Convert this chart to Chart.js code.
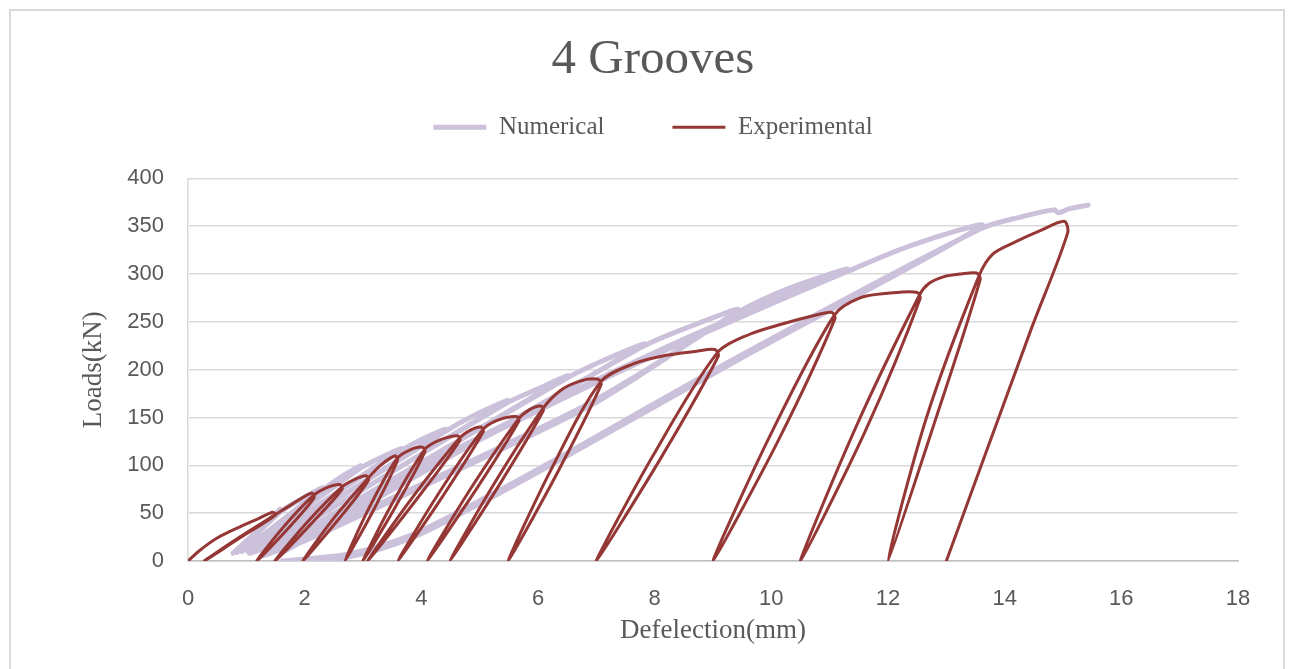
<!DOCTYPE html>
<html>
<head>
<meta charset="utf-8">
<title>4 Grooves</title>
<script src="https://cdn.jsdelivr.net/npm/chart.js@4.4.1/dist/chart.umd.min.js"></script>
<style>
  html, body { margin: 0; padding: 0; background: #fff; }
  #wrap { position: relative; width: 1294px; height: 669px; }
</style>
</head>
<body>
<div id="wrap"><canvas id="myChart" width="1294" height="669"></canvas></div>
<script>
// tick labels
const xTicks = [0, 2, 4, 6, 8, 10, 12, 14, 16, 18];
const yTicks = [0, 50, 100, 150, 200, 250, 300, 350, 400];

// Experimental: loading / unloading cycles (deflection mm, load kN)
const expX = [
  0, 0.2, 0.5, 0.9, 1.2,
  1.45, 1.5, 0.9, 0.28, 0.86, 1.5, 1.8,
  2.12, 2.16, 1.70, 1.18, 1.63, 2.14, 2.35,
  2.6, 2.64, 2.09, 1.49, 2.02, 2.63, 2.85,
  3.05, 3.09, 2.56, 1.97, 2.49, 3.08, 3.3,
  3.55, 3.59, 3.17, 2.69, 3.10, 3.58, 3.8,
  4.02, 4.06, 3.56, 3.0, 3.49, 4.05, 4.3,
  4.62, 4.66, 3.90, 3.08, 3.83, 4.65, 4.85,
  5.02, 5.06, 4.36, 3.6, 4.29, 5.05, 5.3,
  5.63, 5.67, 4.92, 4.1, 4.85, 5.66, 5.85,
  6.05, 6.09, 5.32, 4.49, 5.25, 6.08, 6.38, 6.72,
  7.03, 7.08, 6.33, 5.49, 6.22, 7.07, 7.63, 8.2, 8.7,
  9.03, 9.09, 8.10, 7.0, 7.97, 9.08, 9.63, 10.2, 10.7,
  11.03, 11.09, 10.12, 9.0, 9.97, 11.08, 11.52, 12.03,
  12.49, 12.55, 11.62, 10.5, 11.45, 12.54, 12.7, 12.95, 13.25,
  13.52, 13.58, 12.81, 12.0, 12.66, 13.56, 13.8, 14.2, 14.6,
  15.02, 15.08, 14.44, 13.0
];
const expY = [
  0, 11, 24, 36, 44,
  51, 48, 24.5, 0, 24, 48.5, 60,
  71, 66, 33, 0, 35, 68, 76,
  80, 75, 37.5, 0, 39, 77, 85,
  89, 84, 42, 0, 44, 86, 100,
  110, 105, 52, 0, 55, 107, 116,
  119, 114, 57, 0, 59, 116, 126,
  131, 126, 63, 0, 65, 128, 137,
  140, 135, 67, 0, 70, 137, 147,
  151, 146, 73, 0, 76, 148, 158,
  162, 157, 78, 0, 81, 159, 178, 188,
  190, 184, 92, 0, 95, 187, 206, 215, 219,
  221, 214, 107, 0, 110, 218, 237, 248, 256,
  260, 253, 126, 0, 130, 257, 275, 280,
  281, 274, 137, 0, 140, 278, 290, 297, 300,
  301, 294, 147, 0, 150, 298, 321, 334, 345,
  355, 343, 240, 0
];

// Numerical: loading / unloading cycles
const numX = [
  0.77, 1.2, 1.58,
  0.84,
  1.6, 1.95, 2.3,
  0.92,
  2.28, 2.6, 2.95,
  1.0,
  2.93, 3.3, 3.65,
  1.08,
  3.62, 4.0, 4.4,
  1.18,
  4.37, 4.9, 5.47,
  1.3,
  5.43, 6.0, 6.5,
  1.45,
  6.46, 7.1, 7.8,
  1.65,
  7.76, 8.6, 9.42,
  7.06, 5.35, 3.5, 2.0, 1.25,
  2.0, 3.5, 5.35, 7.06, 9.4, 10.3, 11.3,
  9.63, 8.0, 6.0, 4.0, 2.5, 1.05,
  2.5, 4.0, 6.0, 8.0, 9.63, 11.28, 12.4, 13.6,
  9.63, 6.15, 5.0, 3.86, 2.73, 1.6,
  2.73, 3.86, 5.0, 6.15, 9.63, 13.58,
  14.3, 14.85, 14.92, 15.1, 15.43
];
const numY = [
  8, 32, 54,
  9,
  52, 65, 76,
  10,
  73, 87, 99,
  11,
  96, 108, 117,
  12,
  114, 127, 137,
  12,
  134, 152, 167,
  12,
  164, 180, 193,
  12,
  190, 209, 226,
  10,
  223, 245, 262,
  171, 119, 66, 24, 5,
  21, 63, 116, 168, 259, 285, 305,
  262, 218, 160, 98, 45, 8,
  42, 95, 157, 215, 259, 302, 330, 350,
  217, 98, 60, 25, 4, 0,
  7, 28, 63, 101, 220, 347,
  360, 367, 364, 368, 372
];

const textColor = '#595959';
const serif = 'Liberation Serif';

const numPoints = numX.map((x, i) => ({ x: x, y: numY[i] }));
const expPoints = expX.map((x, i) => ({ x: x, y: expY[i] }));

// light grey frame round the whole chart, like the office chart border
const framePlugin = {
  id: 'frame',
  beforeDraw(chart) {
    const c = chart.ctx;
    c.save();
    c.fillStyle = '#ffffff';
    c.fillRect(0, 0, chart.width, chart.height);
    c.strokeStyle = '#d9d9d9';
    c.lineWidth = 2;
    c.strokeRect(10, 10, 1274, 700);
    c.restore();
  }
};

new Chart(document.getElementById('myChart'), {
  type: 'scatter',
  data: {
    datasets: [
      {
        label: 'Numerical',
        data: numPoints,
        showLine: true,
        borderColor: '#ccc1da',
        backgroundColor: '#ccc1da',
        borderWidth: 5,
        borderCapStyle: 'round',
        borderJoinStyle: 'round',
        pointRadius: 0,
        tension: 0.3,
        order: 1
      },
      {
        label: 'Experimental',
        data: expPoints,
        showLine: true,
        borderColor: '#953735',
        backgroundColor: '#953735',
        borderWidth: 3,
        borderCapStyle: 'round',
        borderJoinStyle: 'round',
        pointRadius: 0,
        tension: 0.3,
        order: 0
      }
    ]
  },
  options: {
    responsive: false,
    animation: false,
    layout: { padding: { left: 68, right: 56, top: 0, bottom: 0 } },
    plugins: {
      title: {
        display: true,
        text: '4 Grooves',
        color: textColor,
        font: { family: serif, size: 49, weight: 'normal' },
        padding: { top: 31, bottom: -43 }
      },
      legend: {
        reverse: true,
        labels: {
          usePointStyle: true,
          pointStyle: 'line',
          pointStyleWidth: 53,
          padding: 68,
          color: textColor,
          font: { family: serif, size: 25 }
        }
      },
      tooltip: { enabled: false }
    },
    scales: {
      x: {
        type: 'linear',
        min: 0,
        max: 18,
        afterBuildTicks: s => { s.ticks = xTicks.map(v => ({ value: v })); },
        afterFit: s => { s.height = 108; },
        grid: { display: false, drawTicks: false },
        border: { color: '#bfbfbf', width: 1.5 },
        ticks: { padding: 25, color: textColor, font: { family: 'Liberation Sans', size: 22 } },
        title: {
          display: true,
          text: 'Defelection(mm)',
          color: textColor,
          font: { family: serif, size: 27 },
          padding: { top: 0, bottom: 22 }
        }
      },
      xTop: {
        type: 'linear',
        position: 'top',
        display: true,
        grid: { display: false, drawTicks: false },
        border: { display: false },
        ticks: { display: false },
        afterFit: s => { s.height = 28.5; }
      },
      y: {
        min: 0,
        max: 400,
        afterBuildTicks: s => { s.ticks = yTicks.map(v => ({ value: v })); },
        afterFit: s => { s.width = 120; },
        grid: { color: '#d9d9d9', lineWidth: 1.5, drawTicks: false },
        border: { color: '#d9d9d9', width: 1.5 },
        ticks: { padding: 24, color: textColor, font: { family: 'Liberation Sans', size: 22 } },
        title: {
          display: true,
          text: 'Loads(kN)',
          color: textColor,
          font: { family: serif, size: 27 },
          padding: { top: 10, bottom: 0 }
        }
      }
    }
  },
  plugins: [framePlugin]
});
</script>
</body>
</html>
